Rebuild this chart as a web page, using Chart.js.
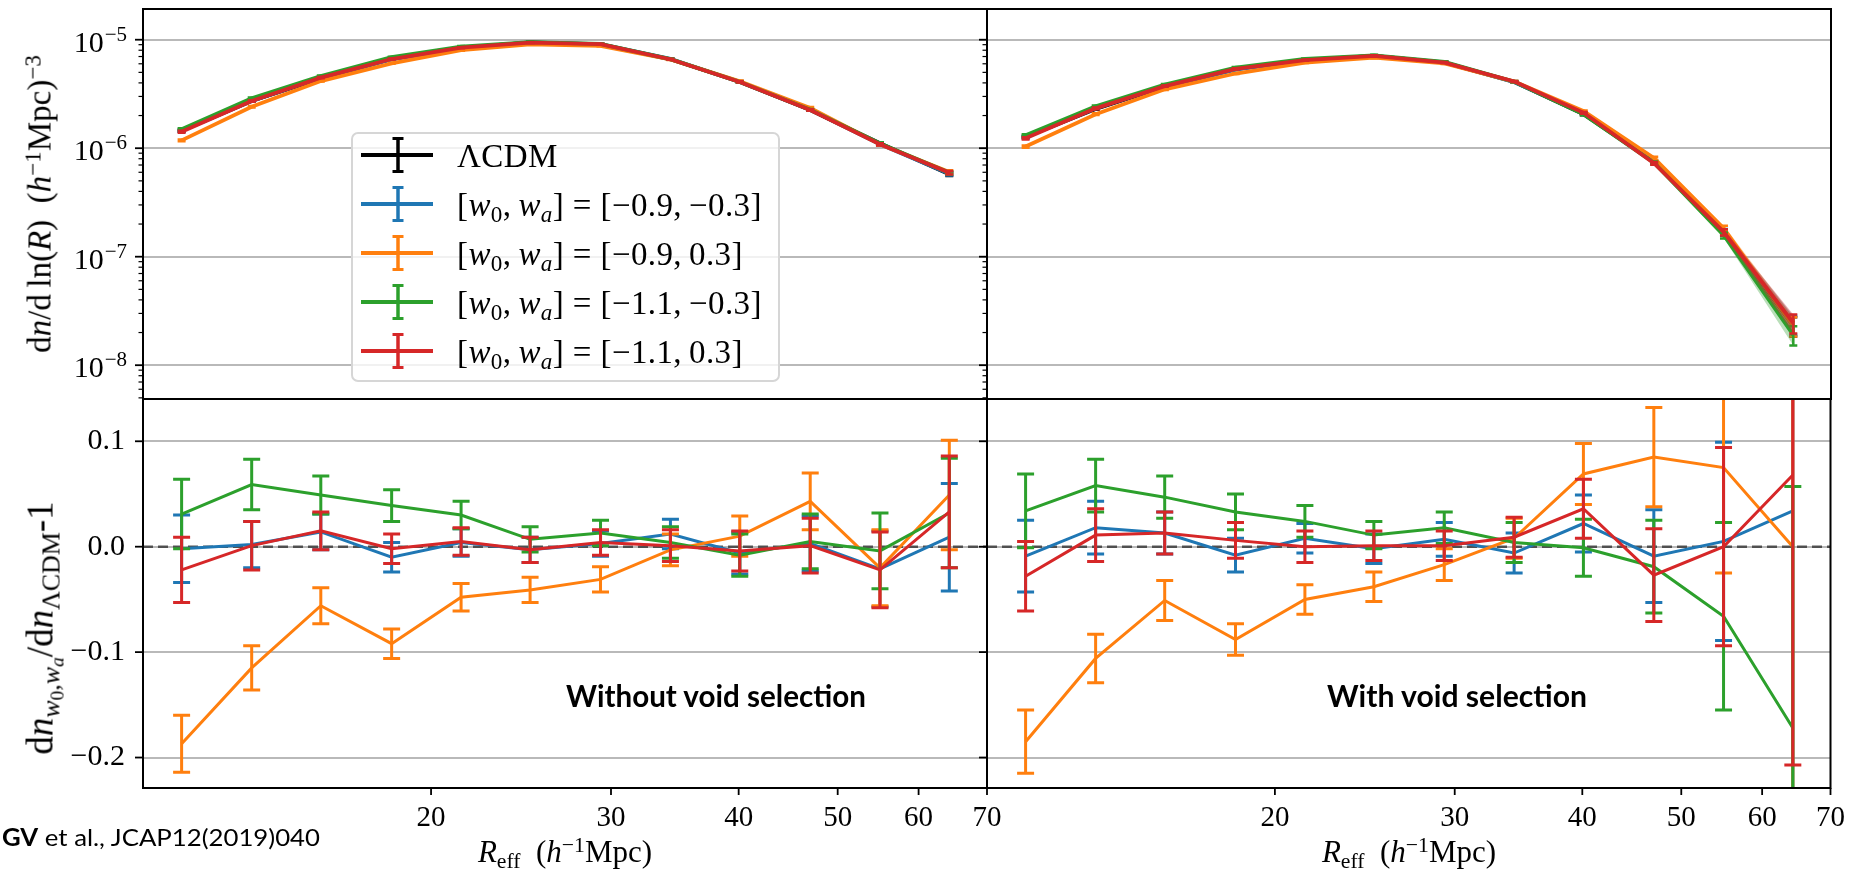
<!DOCTYPE html>
<html lang="en">
<head>
<meta charset="utf-8">
<title>Void size function for CPL dark energy models</title>
<script src="https://cdn.jsdelivr.net/npm/chart.js@4.4.1/dist/chart.umd.min.js"></script>
<style>
  html, body { margin: 0; padding: 0; background: #fff; }
  body { width: 1850px; height: 872px; position: relative; overflow: hidden; }
  canvas.panel { position: absolute; left: 0; top: 0; }
  .tex { position: absolute; font-family: "Liberation Serif", "DejaVu Serif", serif; color: #000; white-space: nowrap; line-height: 1; }
  .tex sup { font-size: 0.7em; vertical-align: 0.45em; line-height: 0; }
  .tex sub { font-size: 0.7em; vertical-align: -0.28em; line-height: 0; }
  .tex sub sub { font-size: 0.75em; vertical-align: -0.2em; }
  .rot { transform: translate(-50%, -50%) rotate(-90deg); }
  .hc { transform: translateX(-50%); }
  .note { position: absolute; font-family: Lato, "Open Sans", sans-serif; color: #000; white-space: nowrap; line-height: 1; transform-origin: 0 0; }
  #legend { position: absolute; left: 351px; top: 132px; width: 429px; height: 250px; box-sizing: border-box;
            border: 2px solid #d6d6d6; border-radius: 7px; background: rgba(255, 255, 255, 0.8); }
  #legend svg { position: absolute; left: 6px; }
  #legend .tex { left: 104px; font-size: 33px; letter-spacing: 0.4px; }
</style>
</head>
<body>
<canvas id="panelTL" class="panel" width="1850" height="872"></canvas>
<canvas id="panelTR" class="panel" width="1850" height="872"></canvas>
<canvas id="panelBL" class="panel" width="1850" height="872"></canvas>
<canvas id="panelBR" class="panel" width="1850" height="872"></canvas>

<div id="legend"></div>

<div class="tex rot" style="left:40px; top:204px; font-size:33px;">d<i>n</i>/d&#8201;ln(<i>R</i>)&#8194;(<i>h</i><sup>&#8722;1</sup>Mpc)<sup>&#8722;3</sup></div>
<div class="tex rot" style="left:40px; top:628px; font-size:37px;">d<i>n</i><sub><i>w</i><sub>0</sub>,<i>w</i><sub><i>a</i></sub></sub>/d<i>n</i><sub>&#923;CDM</sub>-1</div>

<div class="tex hc xtitle" style="left:565px; top:836px; font-size:31px;"><i>R</i><sub>eff</sub>&#8194;(<i>h</i><sup>&#8722;1</sup>Mpc)</div>
<div class="tex hc xtitle" style="left:1409px; top:836px; font-size:31px;"><i>R</i><sub>eff</sub>&#8194;(<i>h</i><sup>&#8722;1</sup>Mpc)</div>

<div id="noteL" class="note" data-w="300" style="left:566px; top:680px; font-size:30px; font-weight:700;"></div>
<div id="noteR" class="note" data-w="260" style="left:1327px; top:680px; font-size:30px; font-weight:700;"></div>
<div id="cite" class="note" data-w="318" style="left:2px; top:825px; font-size:24px;"><b>GV</b> et al., JCAP12(2019)040</div>

<script>
// ---------------- data ----------------
// effective void radius of each bin centre (h^-1 Mpc)
const radius = [11.4, 13.35, 15.6, 18.3, 21.4, 25.0, 29.3, 34.3, 40.1, 47.0, 55.0, 64.3];
const radiusTicks = [20, 30, 40, 50, 60, 70];
const ratioTicks = [-0.2, -0.1, 0.0, 0.1];
const densityDecades = [-9, -8, -7, -6, -5];

const panelNotes = ['Without void selection', 'With void selection'];
const modelW0 = [-0.9, -0.9, -1.1, -1.1];
const modelWa = [-0.3, 0.3, -0.3, 0.3];
const modelColors = ['#1f77b4', '#ff7f0e', '#2ca02c', '#d62728'];
const lcdmColor = '#000000';

// void number density dn/dlnR, all voids
const nLcdmAll   = [1.45e-6, 2.72e-6, 4.40e-6, 6.65e-6, 8.40e-6, 9.45e-6, 9.05e-6, 6.60e-6, 4.10e-6, 2.25e-6, 1.110e-6, 5.75e-7];
const nW09m03All = [1.447e-6, 2.725e-6, 4.46e-6, 6.58e-6, 8.43e-6, 9.42e-6, 9.08e-6, 6.68e-6, 4.08e-6, 2.26e-6, 1.087e-6, 5.80e-7];
const nW09p03All = [1.18e-6, 2.41e-6, 4.16e-6, 6.06e-6, 8.00e-6, 9.06e-6, 8.77e-6, 6.58e-6, 4.14e-6, 2.35e-6, 1.088e-6, 6.03e-7];
const nW11m03All = [1.495e-6, 2.88e-6, 4.62e-6, 6.91e-6, 8.65e-6, 9.52e-6, 9.17e-6, 6.63e-6, 4.07e-6, 2.26e-6, 1.106e-6, 5.93e-7];
const nW11p03All = [1.418e-6, 2.72e-6, 4.47e-6, 6.64e-6, 8.44e-6, 9.42e-6, 9.09e-6, 6.61e-6, 4.08e-6, 2.25e-6, 1.086e-6, 5.94e-7];
const nErrFracAll = [0.020, 0.016, 0.012, 0.010, 0.009, 0.008, 0.008, 0.010, 0.014, 0.018, 0.025, 0.036];

// void number density dn/dlnR, after void selection
const nLcdmSel   = [1.27e-6, 2.30e-6, 3.68e-6, 5.35e-6, 6.48e-6, 7.10e-6, 6.15e-6, 4.08e-6, 2.05e-6, 7.45e-7, 1.68e-7, 2.30e-8];
const nW09m03Sel = [1.259e-6, 2.34e-6, 3.73e-6, 5.31e-6, 6.53e-6, 7.09e-6, 6.19e-6, 4.06e-6, 2.10e-6, 7.38e-7, 1.69e-7, 2.38e-8];
const nW09p03Sel = [1.035e-6, 2.06e-6, 3.49e-6, 4.88e-6, 6.16e-6, 6.83e-6, 6.05e-6, 4.11e-6, 2.19e-6, 8.08e-7, 1.81e-7, 2.30e-8];
const nW11m03Sel = [1.313e-6, 2.43e-6, 3.85e-6, 5.53e-6, 6.64e-6, 7.18e-6, 6.26e-6, 4.10e-6, 2.05e-6, 7.31e-7, 1.57e-7, 1.90e-8];
const nW11p03Sel = [1.234e-6, 2.33e-6, 3.73e-6, 5.38e-6, 6.48e-6, 7.11e-6, 6.16e-6, 4.12e-6, 2.12e-6, 7.25e-7, 1.68e-7, 2.45e-8];
const nErrFracSel = [0.024, 0.018, 0.014, 0.012, 0.010, 0.010, 0.011, 0.013, 0.019, 0.031, 0.065, 0.200];

// relative difference dn_{w0,wa}/dn_LCDM - 1 and its uncertainty, all voids
const dW09m03All = [-0.002, 0.002, 0.014, -0.010, 0.004, -0.003, 0.003, 0.012, -0.006, 0.003, -0.021, 0.009];
const eW09m03All = [0.032, 0.022, 0.017, 0.014, 0.013, 0.012, 0.012, 0.014, 0.020, 0.026, 0.036, 0.051];
const dW09p03All = [-0.187, -0.115, -0.056, -0.092, -0.048, -0.041, -0.031, -0.003, 0.010, 0.043, -0.020, 0.049];
const eW09p03All = [0.027, 0.021, 0.017, 0.014, 0.013, 0.012, 0.012, 0.015, 0.019, 0.027, 0.036, 0.052];
const dW11m03All = [0.031, 0.059, 0.049, 0.039, 0.030, 0.007, 0.013, 0.004, -0.008, 0.005, -0.004, 0.032];
const eW11m03All = [0.033, 0.024, 0.018, 0.015, 0.013, 0.012, 0.012, 0.015, 0.020, 0.026, 0.036, 0.052];
const dW11p03All = [-0.022, 0.001, 0.015, -0.002, 0.005, -0.003, 0.004, 0.001, -0.004, 0.001, -0.022, 0.033];
const eW11p03All = [0.031, 0.023, 0.018, 0.014, 0.013, 0.012, 0.012, 0.015, 0.019, 0.026, 0.036, 0.053];

// relative difference, after void selection
const dW09m03Sel = [-0.009, 0.018, 0.013, -0.008, 0.008, -0.002, 0.007, -0.006, 0.022, -0.009, 0.005, 0.034];
const eW09m03Sel = [0.034, 0.025, 0.020, 0.016, 0.014, 0.014, 0.016, 0.019, 0.027, 0.044, 0.094, 0.300];
const dW09p03Sel = [-0.185, -0.106, -0.051, -0.088, -0.050, -0.038, -0.017, 0.008, 0.069, 0.085, 0.075, 0.000];
const eW09p03Sel = [0.030, 0.023, 0.019, 0.015, 0.014, 0.014, 0.015, 0.019, 0.029, 0.047, 0.100, 0.400];
const dW11m03Sel = [0.034, 0.058, 0.047, 0.033, 0.024, 0.011, 0.018, 0.004, -0.001, -0.019, -0.066, -0.172];
const eW11m03Sel = [0.035, 0.025, 0.020, 0.017, 0.015, 0.013, 0.015, 0.019, 0.027, 0.044, 0.089, 0.229];
const dW11p03Sel = [-0.028, 0.011, 0.013, 0.006, 0.000, 0.001, 0.001, 0.009, 0.036, -0.027, 0.000, 0.068];
const eW11p03Sel = [0.033, 0.025, 0.020, 0.017, 0.015, 0.014, 0.014, 0.019, 0.028, 0.044, 0.094, 0.275];

// ---------------- layout ----------------
const PAGE_W = 1850, PAGE_H = 872;
const serif = '"Liberation Serif", "DejaVu Serif", serif';
const gridColor = '#b9b9b9';
const xMin = 10.45, xMax = 70;
const densityRange = [4.88e-9, 1.919e-5];
const ratioRange = [-0.2289, 0.1401];
const boxes = {
  TL: [143, 9, 987, 399],
  TR: [987, 9, 1831, 399],
  BL: [143, 399, 987, 788],
  BR: [987, 399, 1831, 788]
};

const fmtNum = v => (v < 0 ? '\u2212' : '') + Math.abs(v).toFixed(1);
const isDecade = v => Math.abs(Math.log10(v) - Math.round(Math.log10(v))) < 1e-6;

// log-axis tick positions (1..9 times each decade) that fall inside the density range
const densityTickValues = [];
densityDecades.forEach(e => {
  for (let m = 1; m <= 9; m++) {
    const v = m * Math.pow(10, e);
    if (v >= densityRange[0] && v <= densityRange[1]) densityTickValues.push(v);
  }
});

// ---------------- plugins ----------------
const errorBars = {
  id: 'errorBars',
  beforeDatasetDraw(chart, args) {
    const ds = chart.data.datasets[args.index];
    if (!ds.bandColor) return;
    const { ctx, chartArea: a, scales: { x, y } } = chart;
    ctx.save();
    ctx.beginPath(); ctx.rect(a.left, a.top, a.right - a.left, a.bottom - a.top); ctx.clip();
    ctx.beginPath();
    ds.data.forEach((p, i) => {
      const px = x.getPixelForValue(p.x), py = y.getPixelForValue(p.y + ds.errors[i]);
      if (i === 0) ctx.moveTo(px, py); else ctx.lineTo(px, py);
    });
    for (let i = ds.data.length - 1; i >= 0; i--) {
      const p = ds.data[i];
      ctx.lineTo(x.getPixelForValue(p.x), y.getPixelForValue(Math.max(p.y - ds.errors[i], y.min)));
    }
    ctx.closePath();
    ctx.fillStyle = ds.bandColor;
    ctx.fill();
    ctx.restore();
  },
  afterDatasetDraw(chart, args) {
    const ds = chart.data.datasets[args.index];
    if (!ds.errors) return;
    const { ctx, chartArea: a, scales: { x, y } } = chart;
    const isLog = y.type === 'logarithmic';
    ctx.save();
    ctx.beginPath(); ctx.rect(a.left, a.top, a.right - a.left, a.bottom - a.top); ctx.clip();
    ctx.strokeStyle = ds.borderColor;
    ctx.lineWidth = ds.barWidth;
    ctx.lineCap = 'butt';
    ds.data.forEach((p, i) => {
      const e = ds.errors[i];
      const lo = isLog ? Math.max(p.y - e, y.min * 0.5) : p.y - e;
      const px = x.getPixelForValue(p.x);
      const pTop = y.getPixelForValue(p.y + e);
      const pBot = y.getPixelForValue(lo);
      ctx.beginPath();
      ctx.moveTo(px, pTop); ctx.lineTo(px, pBot);
      ctx.moveTo(px - ds.capHalf, pTop); ctx.lineTo(px + ds.capHalf, pTop);
      ctx.moveTo(px - ds.capHalf, pBot); ctx.lineTo(px + ds.capHalf, pBot);
      ctx.stroke();
    });
    ctx.restore();
  }
};

const zeroLine = {
  id: 'zeroLine',
  beforeDatasetsDraw(chart, args, opts) {
    if (!opts.enabled) return;
    const { ctx, chartArea: a, scales: { y } } = chart;
    const py = y.getPixelForValue(0);
    ctx.save();
    ctx.setLineDash([10, 5]);
    ctx.strokeStyle = 'rgba(60,60,60,0.85)';
    ctx.lineWidth = 2.5;
    ctx.beginPath(); ctx.moveTo(a.left, py); ctx.lineTo(a.right, py); ctx.stroke();
    ctx.restore();
  }
};

const frameTicks = {
  id: 'frameTicks',
  afterDraw(chart, args, opts) {
    const { ctx, chartArea: a, scales: { x, y } } = chart;
    ctx.save();
    ctx.strokeStyle = '#000';
    ctx.fillStyle = '#000';
    y.ticks.forEach(t => {
      const py = y.getPixelForValue(t.value);
      if (py < a.top - 1 || py > a.bottom + 1) return;
      const major = y.type !== 'logarithmic' || isDecade(t.value);
      const len = major ? 8 : 4.5;
      ctx.lineWidth = major ? 1.8 : 1.2;
      ctx.beginPath(); ctx.moveTo(a.left - len, py); ctx.lineTo(a.left, py); ctx.stroke();
      if (opts.decadeLabels && major) {
        const exp = '\u2212' + Math.abs(Math.round(Math.log10(t.value)));
        const xr = a.left - 16;
        ctx.textAlign = 'right';
        ctx.textBaseline = 'alphabetic';
        ctx.font = '21px ' + serif;
        ctx.fillText(exp, xr, py + 1);
        const ew = ctx.measureText(exp).width;
        ctx.font = '30px ' + serif;
        ctx.fillText('10', xr - ew - 1, py + 12);
      }
    });
    if (opts.xTicks) {
      ctx.lineWidth = 1.8;
      x.ticks.forEach(t => {
        const px = x.getPixelForValue(t.value);
        ctx.beginPath(); ctx.moveTo(px, a.bottom); ctx.lineTo(px, a.bottom + 7); ctx.stroke();
      });
    }
    ctx.lineWidth = 2;
    ctx.strokeRect(a.left, a.top, a.right - a.left, a.bottom - a.top);
    ctx.restore();
  }
};

// ---------------- chart builders ----------------
function series(label, color, values, errors, opts) {
  return Object.assign({
    label,
    data: radius.map((r, i) => ({ x: r, y: values[i] })),
    errors,
    borderColor: color,
    backgroundColor: color,
    pointRadius: 0,
    tension: 0,
    fill: false
  }, opts);
}

function modelLabel(i) {
  return '[w0, wa] = [' + fmtNum(modelW0[i]) + ', ' + fmtNum(modelWa[i]) + ']';
}

function densitySets(lcdm, models, frac) {
  const style = { borderWidth: 3.8, barWidth: 2.5, capHalf: 4 };
  const sets = [series('\u039bCDM', lcdmColor, lcdm, lcdm.map((v, i) => v * frac[i]),
                       Object.assign({ bandColor: 'rgba(0,0,0,0.25)' }, style))];
  models.forEach((vals, k) => {
    sets.push(series(modelLabel(k), modelColors[k], vals, vals.map((v, i) => v * frac[i]),
                     Object.assign({ bandColor: modelColors[k] + '55' }, style)));
  });
  sets.forEach((s, i) => { s.order = sets.length - i; });
  return sets;
}

function ratioSets(models) {
  const sets = models.map(([vals, errs], k) =>
    series(modelLabel(k), modelColors[k], vals, errs, { borderWidth: 3, barWidth: 3, capHalf: 8.5 }));
  sets.forEach((s, i) => { s.order = sets.length - i; });
  return sets;
}

function makePanel(canvasId, box, spec) {
  const [l, t, r, b] = box;
  const yScale = spec.log ? {
    type: 'logarithmic',
    min: densityRange[0], max: densityRange[1],
    afterFit: s => { s.width = l; },
    afterBuildTicks: s => { s.ticks = densityTickValues.map(v => ({ value: v })); },
    grid: { color: c => (c.tick && isDecade(c.tick.value)) ? gridColor : 'rgba(0,0,0,0)', lineWidth: 2, drawTicks: false },
    border: { display: false },
    ticks: { display: false }
  } : {
    type: 'linear',
    min: ratioRange[0], max: ratioRange[1],
    afterFit: s => { s.width = l; },
    afterBuildTicks: s => { s.ticks = ratioTicks.map(v => ({ value: v })); },
    grid: { color: gridColor, lineWidth: 2, drawTicks: false },
    border: { display: false },
    ticks: { display: spec.yLabels, padding: 18, color: '#000', font: { family: serif, size: 30 },
             callback: v => fmtNum(v) }
  };
  return new Chart(document.getElementById(canvasId), {
    type: 'line',
    data: { datasets: spec.datasets },
    options: {
      responsive: false,
      animation: false,
      events: [],
      layout: { autoPadding: false, padding: { left: 0, top: t, right: PAGE_W - r, bottom: 0 } },
      plugins: {
        legend: { display: false },
        tooltip: { enabled: false },
        zeroLine: { enabled: !spec.log },
        frameTicks: { decadeLabels: spec.log && spec.yLabels, xTicks: spec.xLabels }
      },
      scales: {
        x: {
          type: 'logarithmic',
          min: xMin, max: xMax,
          afterFit: s => { s.height = PAGE_H - b; },
          afterBuildTicks: s => { s.ticks = radiusTicks.map(v => ({ value: v })); },
          grid: { display: false },
          border: { display: false },
          ticks: { display: spec.xLabels, autoSkip: false, maxRotation: 0, padding: 5, color: '#000',
                   font: { family: serif, size: 29 }, callback: v => String(v) }
        },
        y: yScale
      }
    },
    plugins: [errorBars, zeroLine, frameTicks]
  });
}

makePanel('panelTL', boxes.TL, {
  log: true, yLabels: true, xLabels: false,
  datasets: densitySets(nLcdmAll, [nW09m03All, nW09p03All, nW11m03All, nW11p03All], nErrFracAll)
});
makePanel('panelTR', boxes.TR, {
  log: true, yLabels: false, xLabels: false,
  datasets: densitySets(nLcdmSel, [nW09m03Sel, nW09p03Sel, nW11m03Sel, nW11p03Sel], nErrFracSel)
});
makePanel('panelBL', boxes.BL, {
  log: false, yLabels: true, xLabels: true,
  datasets: ratioSets([[dW09m03All, eW09m03All], [dW09p03All, eW09p03All], [dW11m03All, eW11m03All], [dW11p03All, eW11p03All]])
});
makePanel('panelBR', boxes.BR, {
  log: false, yLabels: false, xLabels: true,
  datasets: ratioSets([[dW09m03Sel, eW09m03Sel], [dW09p03Sel, eW09p03Sel], [dW11m03Sel, eW11m03Sel], [dW11p03Sel, eW11p03Sel]])
});

// ---------------- legend ----------------
(function buildLegend() {
  const legend = document.getElementById('legend');
  const entries = [{ color: lcdmColor, html: '\u039bCDM' }].concat(modelW0.map((w, i) => ({
    color: modelColors[i],
    html: '[<i>w</i><sub>0</sub>,&#8201;<i>w</i><sub><i>a</i></sub>] = [' + fmtNum(w) + ',&#8201;' + fmtNum(modelWa[i]) + ']'
  })));
  entries.forEach((e, k) => {
    const cy = 21 + 49 * k;
    const svg = document.createElementNS('http://www.w3.org/2000/svg', 'svg');
    svg.setAttribute('width', '76'); svg.setAttribute('height', '40');
    svg.style.top = (cy - 20) + 'px';
    svg.innerHTML =
      '<line x1="2" y1="20" x2="74" y2="20" stroke="' + e.color + '" stroke-width="4"/>' +
      '<line x1="39" y1="3" x2="39" y2="37" stroke="' + e.color + '" stroke-width="3.5"/>' +
      '<line x1="33.5" y1="3.5" x2="44.5" y2="3.5" stroke="' + e.color + '" stroke-width="3"/>' +
      '<line x1="33.5" y1="36.5" x2="44.5" y2="36.5" stroke="' + e.color + '" stroke-width="3"/>';
    legend.appendChild(svg);
    const t = document.createElement('div');
    t.className = 'tex';
    t.style.top = (cy - 15) + 'px';
    t.innerHTML = e.html;
    legend.appendChild(t);
  });
})();

// ---------------- notes ----------------
document.getElementById('noteL').textContent = panelNotes[0];
document.getElementById('noteR').textContent = panelNotes[1];
function fitNotes() {
  document.querySelectorAll('.note[data-w]').forEach(el => {
    el.style.transform = 'none';
    const w = el.getBoundingClientRect().width;
    el.style.transform = 'scaleX(' + (parseFloat(el.dataset.w) / w) + ')';
  });
}
fitNotes();
if (document.fonts && document.fonts.ready) document.fonts.ready.then(fitNotes);
</script>
</body>
</html>
